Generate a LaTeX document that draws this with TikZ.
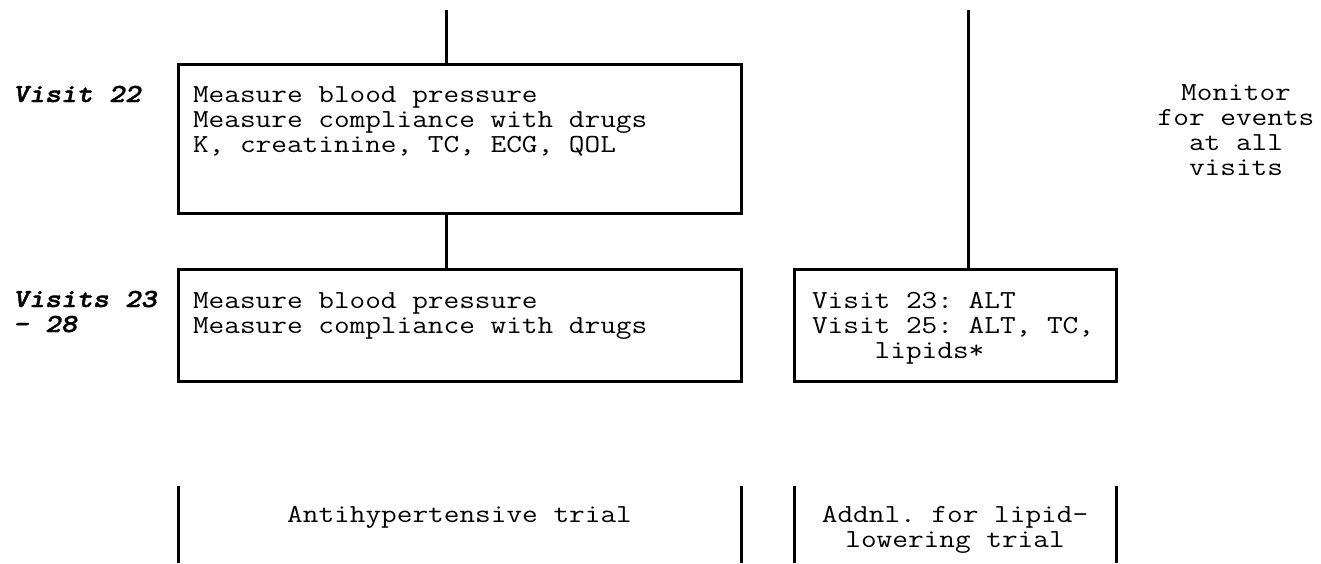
\documentclass[tikz,border=0pt]{standalone}
\usepackage{fontspec}
\setmonofont{Latin Modern Mono}[FakeStretch=1.17]
\newfontfamily\labfont{lmmonolt10-boldoblique.otf}[FakeStretch=1.17,FakeBold=1.5]
\usetikzlibrary{calc}
\begin{document}
\begin{tikzpicture}[x=1pt,y=-1pt,
  every node/.style={inner sep=0pt, outer sep=0pt, font=\ttfamily\fontsize{26}{25}\selectfont},
  box/.style={draw, line width=3pt, anchor=north west},
  vlabel/.style={font=\labfont\fontsize{26}{25}\selectfont, align=left, anchor=base west},
  txt/.style={align=left, anchor=base west},
  ctxt/.style={align=center, anchor=base},
  conn/.style={line width=3pt}]
\useasboundingbox (0,0) rectangle (1321,563);
% boxes
\node[box, minimum width=563pt, minimum height=149pt] (b1) at (178,64) {};
\node[box, minimum width=563pt, minimum height=112pt] (b2) at (178,269) {};
\node[box, minimum width=322pt, minimum height=112pt] (b3) at (794,269) {};
% box texts (base anchor = baseline of last line)
\node[txt] (t1) at ($(b1.north west)+(15,88)$) {Measure blood pressure\\Measure compliance with drugs\\K, creatinine, TC, ECG, QOL};
\node[txt] (t2) at ($(b2.north west)+(15,64)$) {Measure blood pressure\\Measure compliance with drugs};
\node[txt] (t3) at ($(b3.north west)+(18,89)$) {Visit 23: ALT\\Visit 25: ALT, TC,\\\hphantom{Visi}lipids*};
% labels
\node[vlabel] (l1) at (13,102) {Visit 22};
\node[vlabel] (l2) at (13,332) {Visits 23\\- 28};
\node[ctxt] (mon) at (1236,175) {Monitor\\for events\\at all\\visits};
% connectors
\coordinate (c1) at (446,10);
\coordinate (c2) at (968,10);
\draw[conn] (c1) -- (c1 |- b1.north);
\draw[conn] (c1 |- b1.south) -- (c1 |- b2.north);
\draw[conn] (c2) -- (c2 |- b3.north);
% bottom brackets
\coordinate (k1) at (178,486);
\coordinate (k2) at (741,486);
\coordinate (k3) at (794,486);
\coordinate (k4) at (1116,486);
\foreach \k in {k1,k2,k3,k4} \draw[conn] (\k) -- ++(0,77);
\node[ctxt] (anti) at (459.5,522) {Antihypertensive trial};
\node[ctxt] (lip) at (955,547) {Addnl. for lipid-\\lowering trial};
\end{tikzpicture}
\end{document}
